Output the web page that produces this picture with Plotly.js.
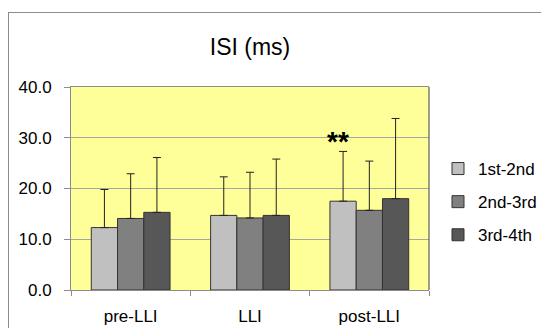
<!DOCTYPE html>
<html>
<head>
<meta charset="utf-8">
<script src="https://cdn.plot.ly/plotly-3.0.1.min.js"></script>
<style>
  html, body { margin: 0; padding: 0; background: #ffffff; }
  #wrap { position: relative; width: 541px; height: 328px; overflow: hidden; }
  #frame { position: absolute; left: 8px; top: 12px; width: 600px; height: 400px; border: 1px solid #8c8c8c; box-sizing: border-box; pointer-events: none; }
  #chart { position: absolute; left: 0; top: 0; width: 541px; height: 328px; }
</style>
</head>
<body>
<div id="wrap">
  <div id="chart"></div>
  <div id="frame"></div>
</div>
<script>
const categories = ["pre-LLI", "LLI", "post-LLI"];
const seriesNames = ["1st-2nd", "2nd-3rd", "3rd-4th"];
const means1 = [12.3, 14.7, 17.5];
const means2 = [14.1, 14.2, 15.7];
const means3 = [15.3, 14.7, 18.0];
const upper1 = [19.8, 22.3, 27.3];
const upper2 = [22.9, 23.2, 25.4];
const upper3 = [26.1, 25.8, 33.8];
const yTicks = [0, 10, 20, 30, 40];
const colors = ["#c0c0c0", "#808080", "#575757"];

const means = [means1, means2, means3];
const uppers = [upper1, upper2, upper3];

const traces = means.map((m, i) => ({
  type: "bar",
  name: seriesNames[i],
  x: categories,
  y: m,
  legendgroup: "g" + i,
  marker: { color: colors[i], line: { color: "#333333", width: 1 } },
  error_y: {
    type: "data",
    symmetric: false,
    array: uppers[i].map((u, k) => u - m[k]),
    arrayminus: m.map(() => 0),
    color: "#222222",
    thickness: 1,
    width: 4
  },
  hoverinfo: "none"
}));

const layout = {
  width: 541,
  height: 328,
  margin: { l: 71, r: 112, t: 87, b: 38, pad: 0, autoexpand: false },
  paper_bgcolor: "#ffffff",
  plot_bgcolor: "#ffff99",
  font: { family: "Liberation Sans, Arial, sans-serif", size: 17, color: "#000000" },
  title: {
    text: "ISI (ms)",
    font: { size: 23, family: "Liberation Sans, Arial, sans-serif", color: "#000000" },
    xref: "paper",
    x: 0.5,
    xanchor: "center",
    yref: "container",
    y: 1 - 47 / 328,
    yanchor: "middle"
  },
  barmode: "group",
  bargap: 0.34,
  bargroupgap: 0,
  showlegend: true,
  legend: {
    xref: "container",
    yref: "container",
    x: 438 / 541,
    xanchor: "left",
    y: 1 - 202 / 328,
    yanchor: "middle",
    traceorder: "grouped",
    tracegroupgap: 8,
    font: { size: 17 },
    bgcolor: "rgba(0,0,0,0)"
  },
  xaxis: {
    type: "category",
    tickson: "boundaries",
    ticks: "outside",
    ticklen: 5,
    tickcolor: "#8c8c8c",
    ticklabelstandoff: 11,
    showline: true,
    linecolor: "#8c8c8c",
    linewidth: 1,
    mirror: true,
    showgrid: false,
    tickfont: { size: 17 },
    fixedrange: true
  },
  yaxis: {
    range: [0, 40],
    tickvals: yTicks,
    tickformat: ".1f",
    ticks: "outside",
    ticklen: 6,
    tickcolor: "#8c8c8c",
    ticklabelstandoff: 9,
    showline: true,
    linecolor: "#8c8c8c",
    linewidth: 1,
    showgrid: true,
    gridcolor: "#a6a6a6",
    gridwidth: 1,
    zeroline: false,
    tickfont: { size: 17 },
    fixedrange: true
  },
  shapes: [
    { type: "line", xref: "paper", yref: "paper", x0: 1, x1: 1, y0: 0, y1: 1, line: { color: "#404040", width: 1 } }
  ],
  annotations: [
    {
      x: "post-LLI",
      y: 29.2,
      xref: "x",
      yref: "y",
      xshift: -31,
      text: "<b>**</b>",
      showarrow: false,
      font: { size: 28, family: "Liberation Sans, Arial, sans-serif", color: "#000000" },
      xanchor: "center",
      yanchor: "middle"
    }
  ]
};

Plotly.newPlot("chart", traces, layout, { staticPlot: true, displayModeBar: false });
</script>
</body>
</html>
